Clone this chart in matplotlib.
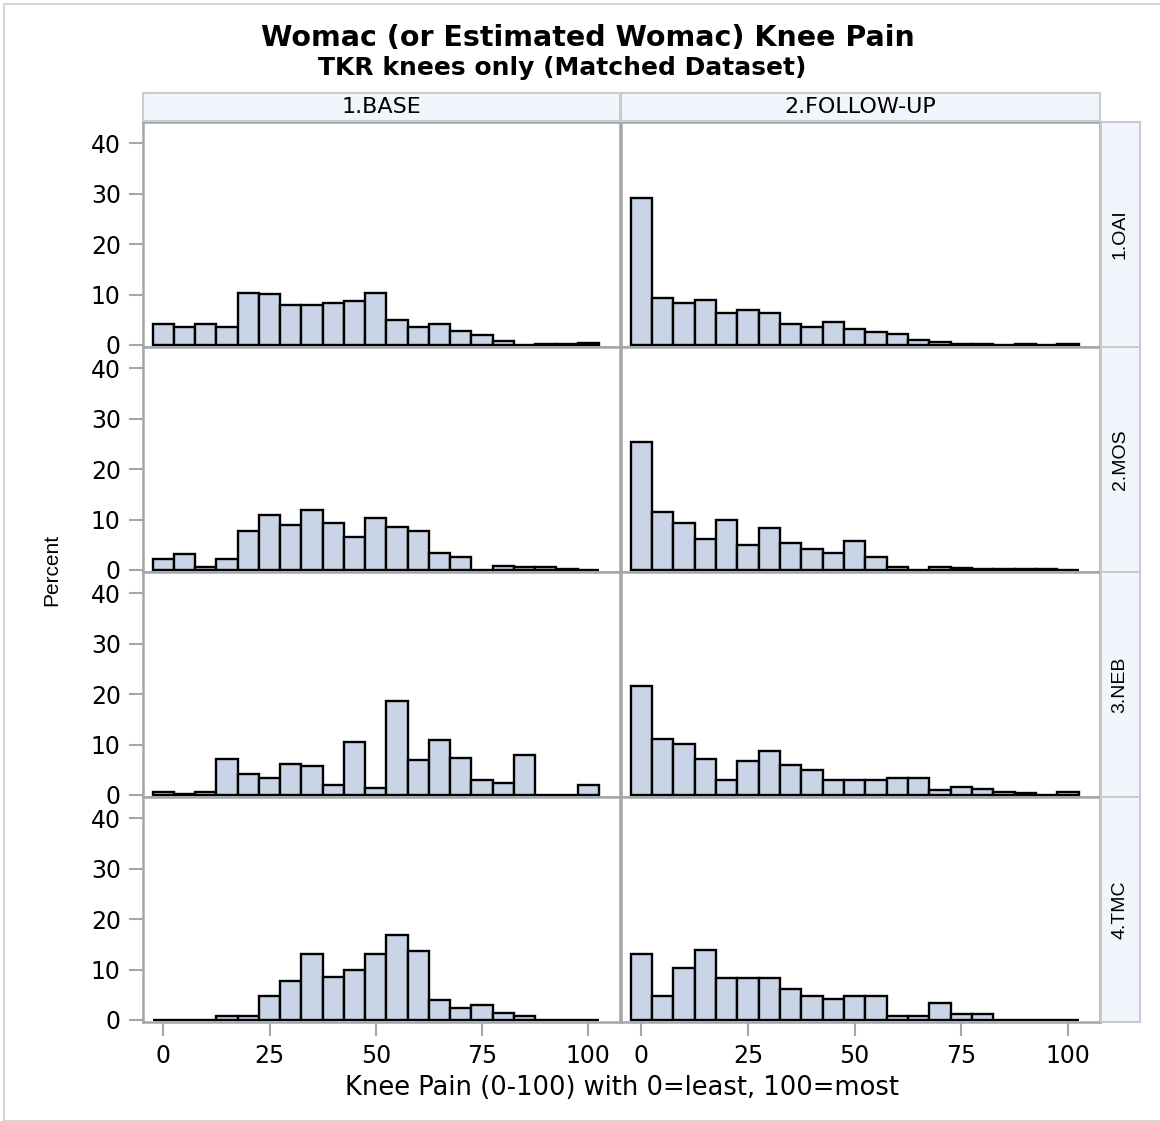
import numpy as np
import matplotlib
matplotlib.use('Agg')
import matplotlib.pyplot as plt
from matplotlib.patches import Rectangle

# bin midpoints (width 5)
bins = list(range(0, 101, 5))

columns = ['1.BASE', '2.FOLLOW-UP']
rows = ['1.OAI', '2.MOS', '3.NEB', '4.TMC']

# percent per bin
oai_base = [4.2, 3.5, 4.2, 3.6, 10.4, 10.2, 7.9, 7.9, 8.3, 8.7, 10.4, 5.0, 3.6, 4.2, 2.8, 2.0, 0.7, 0.0, 0.1, 0.1, 0.3]
oai_fu = [29.2, 9.4, 8.3, 8.9, 6.3, 7.0, 6.4, 4.1, 3.5, 4.5, 3.1, 2.6, 2.1, 0.9, 0.6, 0.1, 0.1, 0.0, 0.2, 0.0, 0.2]
mos_base = [2.1, 3.1, 0.5, 2.1, 7.7, 10.8, 9.0, 11.8, 9.4, 6.6, 10.4, 8.6, 7.7, 3.4, 2.6, 0.0, 0.8, 0.5, 0.5, 0.1, 0.0]
mos_fu = [25.4, 11.5, 9.4, 6.1, 9.9, 5.0, 8.4, 5.3, 4.2, 3.4, 5.7, 2.5, 0.6, 0.0, 0.6, 0.3, 0.1, 0.1, 0.1, 0.1, 0.0]
neb_base = [0.5, 0.2, 0.5, 7.1, 4.1, 3.3, 6.1, 5.8, 1.9, 10.6, 1.3, 18.6, 6.9, 10.8, 7.4, 3.0, 2.3, 7.9, 0.0, 0.0, 1.9]
neb_fu = [21.7, 11.1, 10.2, 7.1, 2.9, 6.7, 8.7, 5.9, 4.9, 3.0, 3.0, 3.0, 3.3, 3.3, 1.0, 1.6, 1.2, 0.6, 0.4, 0.0, 0.6]
tmc_base = [0.0, 0.0, 0.0, 0.8, 0.8, 4.7, 7.7, 13.0, 8.5, 9.9, 13.0, 16.9, 13.7, 3.9, 2.3, 2.9, 1.4, 0.7, 0.0, 0.0, 0.0]
tmc_fu = [13.1, 4.8, 10.4, 13.8, 8.3, 8.3, 8.3, 6.2, 4.8, 4.2, 4.8, 4.8, 0.8, 0.8, 3.4, 1.2, 1.2, 0.0, 0.0, 0.0, 0.0]

data = [[oai_base, oai_fu], [mos_base, mos_fu], [neb_base, neb_fu], [tmc_base, tmc_fu]]

W, H = 1160, 1121
fig = plt.figure(figsize=(W / 100, H / 100), dpi=100)

def fx(px):
    return px / W

def fy(py):
    return 1 - py / H

frame = '#a3a7ab'
fill = '#c9d5e6'
strip_fill = '#f3f5fc'
wide_font = 'DejaVu Sans'
narrow_font = ['Liberation Sans', 'DejaVu Sans']

# outer border
fig.patches.append(Rectangle((fx(4), fy(1121)), 1, fy(4) - fy(1121), transform=fig.transFigure,
                             fill=False, edgecolor='#d0d0d0', lw=1.2))

col_x = [(143, 620), (621, 1100)]
row_top = [122, 347, 572, 797]
row_h = 225

for r in range(4):
    for c in range(2):
        x0, x1 = col_x[c]
        y0 = row_top[r]
        ax = fig.add_axes([fx(x0), fy(y0 + row_h), fx(x1 - x0), row_h / H])
        ax.bar(bins, data[r][c], width=5, color=fill, edgecolor='black', linewidth=1.7)
        ax.set_xlim(-4.8, 107.5)
        ax.set_ylim(-0.4, 44.2)
        for s in ax.spines.values():
            s.set_color(frame)
            s.set_linewidth(1.8)
        ax.set_xticks([0, 25, 50, 75, 100])
        ax.set_yticks([0, 10, 20, 30, 40])
        ax.tick_params(colors=frame, length=10, width=1.5, labelcolor='black',
                       labelsize=17, pad=6)
        if c == 0:
            for lab in ax.get_yticklabels():
                lab.set_family(wide_font)
        else:
            ax.tick_params(axis='y', left=False, labelleft=False)
        if r == 3:
            for lab in ax.get_xticklabels():
                lab.set_family(wide_font)
        else:
            ax.tick_params(axis='x', bottom=False, labelbottom=False)

# column strips
for c in range(2):
    x0, x1 = col_x[c]
    fig.patches.append(Rectangle((fx(x0), fy(121)), fx(x1 - x0), 28 / H, transform=fig.transFigure,
                                 facecolor=strip_fill, edgecolor='#c8cbd0', lw=1.5))
    fig.text(fx((x0 + x1) / 2), fy(107), columns[c], ha='center', va='center',
             fontsize=16, family=wide_font)

# row strips
for r in range(4):
    y0 = row_top[r]
    fig.patches.append(Rectangle((fx(1101), fy(y0 + row_h)), fx(39), row_h / H, transform=fig.transFigure,
                                 facecolor=strip_fill, edgecolor='#c8cbd0', lw=1.5))
    fig.text(fx(1120), fy(y0 + row_h / 2), rows[r], ha='center', va='center', rotation=90,
             fontsize=14, family=narrow_font)

fig.text(fx(588), fy(38), 'Womac (or Estimated Womac) Knee Pain', ha='center', va='center',
         fontsize=20.5, fontweight='bold', family=wide_font)
fig.text(fx(562), fy(68), 'TKR knees only (Matched Dataset)', ha='center', va='center',
         fontsize=18, fontweight='bold', family=wide_font)
fig.text(fx(622), fy(1088), 'Knee Pain (0-100) with 0=least, 100=most', ha='center', va='center',
         fontsize=18.5, family=wide_font)
fig.text(fx(52), fy(570), 'Percent', ha='center', va='center', rotation=90,
         fontsize=15, family=narrow_font)

fig.savefig('out.png', dpi=100)
